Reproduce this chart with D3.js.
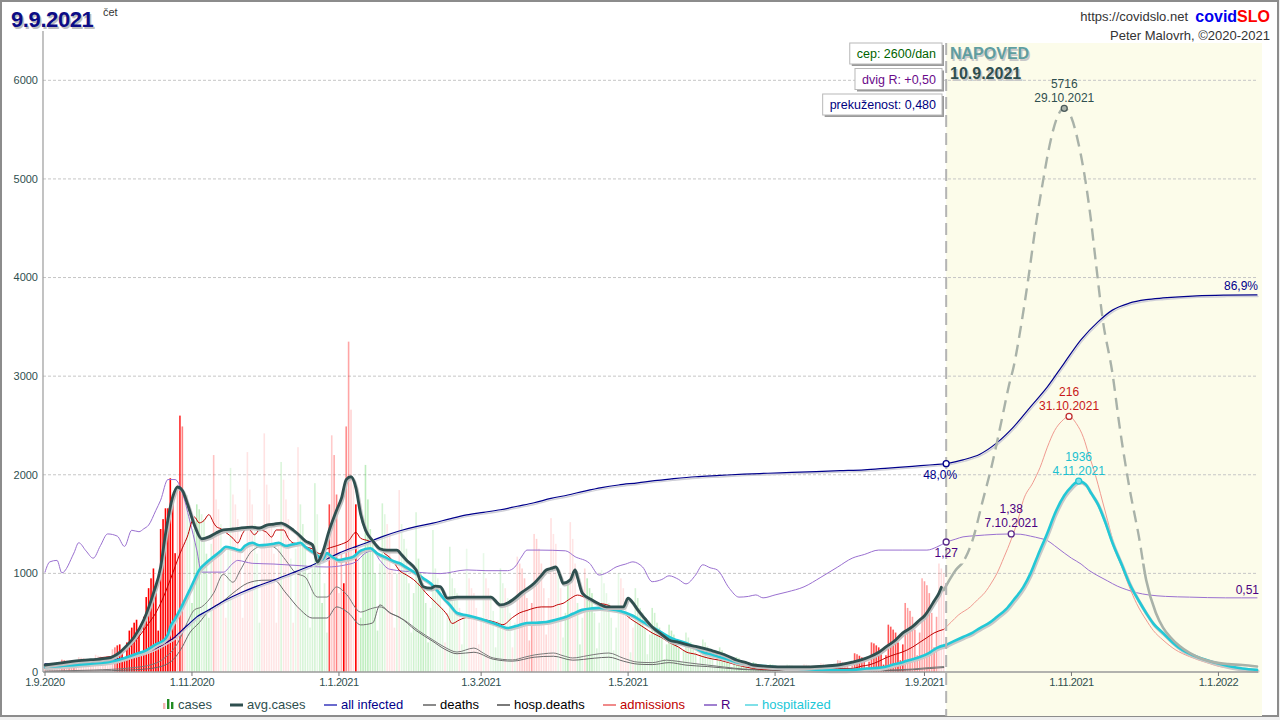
<!DOCTYPE html>
<html><head><meta charset="utf-8">
<script src="https://cdn.jsdelivr.net/npm/d3@7"></script>
<style>
html,body{margin:0;padding:0;background:#fff;}
svg{display:block;font-family:"Liberation Sans",Arial,sans-serif;}
</style></head><body>
<svg id="c" width="1280" height="720"></svg>
<script>
// ---------------- DATA ----------------
const START = "2020-09-01";          // day 0
const FORECAST_START = "2021-09-10"; // day 374
const END = "2022-01-17";
const titleDate = "9.9.2021";
const titleDay = "čet";
const xTickDates = ["2020-09-01","2020-11-01","2021-01-01","2021-03-01","2021-05-01","2021-07-01","2021-09-01","2021-11-01","2022-01-01"];
const yTicks = [0,1000,2000,3000,4000,5000,6000];
const scenario = ["cep: 2600/dan", "dvig R: +0,50", "prekuženost: 0,480"];

// daily confirmed cases, one value per day from 1.9.2020
const cases = [
85,80,85,75,60,30,75, 125,120,115,110,85,45,100, 150,145,140,130,100,55,120, 175,165,160,155,120,65,140,
230,250,270,280,210,115,300, 420,450,500,530,410,210,560, 760,850,950,1050,800,420,1450, 1550,1660,1660,1965,1800,1205,1900,
2600,2490,1795,1795,1600,700,1450, 1700,1650,1600,1550,1200,550,1300, 2200,1750,1650,1500,1200,550,1250, 2070,1800,1700,1550,1250,550,1300,
2230,1850,1700,1500,1200,500,1300, 2420,1900,1700,1500,1200,500,1300, 2130,1950,1750,1550,1150,500,1250, 2280,1700,1500,1350,1000,450,1050,
1915,1600,1200,700,900,400,1700, 2400,2200,1800,800,1200,900,2490, 3350,2660,1900,1700,1300,550,1200, 2100,1750,1450,1300,1000,420,1100,
1710,1600,1500,1400,1050,450,1000, 1845,1500,1350,1250,900,400,800, 1620,1150,1000,900,700,300,650, 1440,1050,950,850,650,300,600,
1270,950,850,800,650,280,550, 1250,950,850,800,650,280,560, 1205,950,850,780,620,250,520, 1050,900,850,750,600,250,500,
1170,1100,1050,950,750,320,700, 1400,1350,1250,1100,850,380,750, 1560,1400,1300,1050,850,350,600, 900,1520,1350,1100,700,280,550,
1050,950,850,800,600,240,500, 1035,900,800,700,550,220,450, 1000,950,850,750,550,200,450, 850,750,650,600,450,180,380,
650,600,500,450,350,130,280, 480,420,380,330,250,100,220, 400,350,300,280,200,80,180, 330,300,260,240,170,70,150,
250,220,190,170,120,50,110, 150,140,120,100,80,30,70, 100,90,80,70,50,20,45, 80,75,70,60,45,15,40,
75,70,65,55,40,15,35, 80,75,70,60,45,15,40, 90,85,75,70,50,20,45, 120,115,100,95,70,30,65,
190,180,165,150,110,45,105, 300,290,270,250,180,75,170, 480,460,430,400,300,120,280, 700,650,620,560,430,170,400,
950,920,880,800,600,250,560, 1100,1050,1000
];

// [day since 1.9.2020, value]
const avgCases = [[0,71],[6,90],[12,110],[19,125],[26,140],[31,200],[34,270],[37,355],[41,530],[45,800],[48,1065],[50,1400],[53,1775],[55,1876],[57,1840],[59,1714],[62,1490],[65,1350],[68,1370],[71,1410],[74,1440],[78,1450],[81,1460],[86,1470],[89,1460],[92,1490],[95,1500],[98,1510],[100,1490],[103,1440],[105,1400],[108,1330],[111,1290],[113,1115],[115,1200],[118,1440],[121,1640],[123,1760],[125,1950],[127,1980],[129,1870],[131,1600],[133,1440],[136,1330],[139,1250],[142,1235],[146,1235],[148,1190],[150,1135],[154,1035],[157,865],[160,850],[162,870],[164,865],[167,750],[171,760],[175,760],[180,760],[185,760],[189,680],[192,700],[194,730],[198,810],[203,900],[206,980],[208,1035],[210,1050],[212,1065],[214,960],[215,900],[218,935],[220,1035],[221,960],[223,800],[227,730],[230,690],[233,660],[236,660],[240,660],[242,750],[244,700],[246,630],[249,540],[252,456],[256,380],[259,325],[263,300],[266,280],[270,260],[273,243],[277,215],[280,193],[284,155],[287,122],[291,95],[294,71],[300,58],[308,51],[315,51],[322,58],[329,71],[335,100],[339,125],[342,152],[346,200],[349,254],[353,325],[356,396],[360,460],[363,527],[365,570],[367,640],[369,720],[371,800],[372,860]];
const avgCasesForecast = [[373,830],[376,960],[378,1035],[381,1115],[385,1340],[389,1720],[393,2100],[397,2550],[400,2900],[402,3095],[405,3500],[408,3975],[411,4500],[414,4950],[417,5350],[420,5620],[423,5716],[426,5620],[429,5350],[432,4950],[434,4600],[436,4178],[439,3570],[443,3030],[446,2485],[450,1876],[454,1370],[457,933],[461,600],[464,450],[467,355],[471,260],[475,193],[480,135],[485,100],[491,80],[497,71],[503,55]];

const hospitalized = [[0,50],[6,60],[12,70],[19,85],[26,100],[30,120],[34,150],[38,185],[42,220],[46,280],[50,340],[51,380],[52,456],[54,540],[56,630],[58,730],[60,830],[62,935],[64,1035],[67,1110],[70,1170],[73,1230],[75,1270],[78,1255],[81,1235],[83,1280],[86,1310],[89,1285],[92,1290],[95,1300],[97,1310],[100,1280],[102,1290],[104,1300],[106,1310],[108,1270],[110,1235],[113,1185],[115,1140],[117,1205],[119,1170],[122,1135],[125,1150],[128,1170],[131,1230],[135,1255],[138,1200],[142,1155],[145,1120],[147,1105],[150,1060],[154,1000],[157,950],[160,900],[163,820],[165,760],[168,680],[171,598],[175,575],[178,558],[182,530],[186,497],[189,470],[192,446],[196,470],[200,497],[204,500],[208,507],[212,530],[216,558],[219,590],[223,630],[227,645],[230,650],[234,640],[237,630],[241,600],[244,570],[248,510],[252,456],[256,400],[259,355],[262,325],[266,294],[270,245],[273,203],[277,175],[280,152],[284,125],[287,100],[291,85],[294,71],[301,55],[308,40],[315,30],[322,22],[329,20],[335,22],[341,35],[347,45],[352,75],[356,100],[360,130],[363,152],[367,195],[370,243],[374,275]];
const hospitalizedForecast = [[374,275],[377,310],[381,355],[385,400],[388,446],[392,500],[395,558],[399,640],[402,730],[406,860],[409,1000],[412,1180],[416,1410],[419,1600],[423,1790],[426,1880],[429,1936],[432,1900],[434,1820],[437,1700],[440,1520],[443,1310],[447,1080],[450,900],[454,720],[457,598],[460,490],[464,396],[468,300],[472,223],[477,165],[482,122],[487,85],[492,55],[497,35],[503,22]];

// hospital admissions per day
const admissions = [[0,3],[6,4],[12,6],[18,9],[23,12],[27,13],[30,14],[33,18],[35,21],[39,30],[43,41],[46,50],[48,58],[52,78],[56,100],[59,114],[62,131],[64,126],[66,128],[68,133],[70,126],[71,123],[73,121],[75,118],[78,113],[80,109],[82,117],[84,122],[87,116],[89,120],[92,118],[94,114],[96,120],[99,120],[101,113],[103,109],[106,108],[108,106],[111,104],[114,100],[117,104],[120,106],[123,108],[126,111],[129,118],[131,113],[134,111],[136,109],[138,106],[141,100],[143,97],[145,92],[147,86],[150,82],[153,78],[156,72],[158,67],[161,61],[164,55],[167,48],[169,41],[172,44],[175,46],[179,45],[183,44],[187,42],[190,40],[194,46],[197,50],[200,52],[203,54],[206,55],[210,55],[213,57],[215,58],[218,62],[221,65],[224,63],[226,61],[230,58],[233,57],[237,53],[240,50],[243,45],[246,41],[249,37],[252,33],[256,29],[259,25],[263,21],[266,17],[270,15],[273,13],[277,11],[280,10],[287,6],[294,3],[301,2],[308,2],[315,2],[322,2],[329,3],[335,3],[339,5],[342,6],[346,9],[349,12],[353,15],[356,17],[360,21],[363,25],[366,29],[369,33],[373,36]];
const admissionsForecast = [[373,36],[376,42],[379,48],[384,55],[387,61],[390,67],[393,76],[395,83],[398,97],[401,112],[404,130],[406,145],[410,160],[413,173],[416,190],[419,204],[422,212],[425,216],[428,210],[431,198],[433,185],[436,166],[438,151],[441,128],[444,105],[447,88],[450,72],[453,58],[457,44],[460,35],[464,27],[469,19],[475,13],[482,8],[489,4],[496,3],[503,2]];

// reproduction number
const rValues = [[0,0.86],[2,1.00],[5,1.02],[7,0.85],[12,1.12],[14,1.26],[17,1.15],[20,1.05],[23,1.22],[26,1.38],[30,1.35],[33,1.21],[36,1.43],[39,1.41],[41,1.45],[43,1.50],[46,1.70],[48,1.84],[51,2.12],[54,2.12],[57,1.94],[60,1.57],[63,1.16],[65,0.86],[70,0.86],[74,0.86],[78,0.98],[80,1.02],[83,1.00],[86,0.98],[95,0.97],[105,0.95],[109,0.94],[117,0.93],[125,0.96],[129,1.00],[133,1.12],[136,1.15],[139,1.02],[143,0.90],[154,0.86],[164,0.84],[175,0.89],[183,0.88],[192,0.88],[195,0.93],[198,1.08],[200,1.16],[205,1.16],[216,1.15],[220,1.07],[226,0.98],[230,0.82],[233,0.85],[237,0.93],[241,0.97],[244,1.00],[246,0.98],[248,0.93],[252,0.73],[256,0.76],[259,0.81],[263,0.76],[266,0.70],[270,0.82],[273,0.96],[276,0.92],[279,0.89],[284,0.64],[288,0.52],[292,0.53],[295,0.55],[298,0.51],[303,0.55],[308,0.59],[315,0.66],[322,0.79],[329,0.93],[335,1.05],[340,1.10],[346,1.16],[356,1.16],[366,1.16],[370,1.20],[374,1.27]];
const rForecast = [[374,1.27],[378,1.31],[381,1.34],[386,1.355],[390,1.365],[395,1.375],[401,1.38],[405,1.375],[409,1.35],[413,1.32],[416,1.29],[419,1.22],[423,1.12],[426,1.05],[430,0.97],[433,0.89],[437,0.81],[441,0.74],[445,0.67],[449,0.62],[453,0.58],[458,0.55],[465,0.53],[475,0.52],[490,0.51],[503,0.51]];

// share of population infected, %
const allInfected = [[0,1.85],[10,1.95],[19,2.1],[26,2.5],[32,3.2],[37,3.8],[42,4.6],[46,5.5],[50,6.7],[54,8.1],[57,9.7],[60,11.2],[63,12.7],[67,14.0],[70,15.0],[75,16.6],[81,18.2],[88,19.8],[95,21.2],[102,22.7],[109,24.2],[116,25.8],[122,27.4],[129,28.9],[134,29.9],[140,31.2],[147,32.5],[154,33.5],[161,34.3],[168,35.3],[175,36.2],[182,36.8],[189,37.4],[196,38.2],[203,39.0],[210,40.0],[217,40.8],[224,41.7],[231,42.5],[238,43.1],[246,43.6],[253,44.1],[260,44.5],[270,45.0],[280,45.3],[290,45.6],[300,45.8],[310,46.0],[320,46.2],[330,46.4],[340,46.6],[350,47.0],[360,47.4],[367,47.7],[374,48.0]];
const allInfectedForecast = [[374,48.0],[381,48.9],[388,50.2],[395,52.8],[402,56.5],[409,61.1],[416,65.7],[423,71.2],[430,76.6],[437,80.7],[443,83.4],[450,85.0],[457,85.8],[464,86.2],[478,86.7],[490,86.85],[503,86.9]];

// deaths per day (all / in hospital)
const deaths = [[0,0.4],[20,0.8],[35,1.6],[45,3.2],[50,6],[55,11.6],[59,20],[62,25.2],[65,26.4],[70,32],[74,39.6],[78,36.4],[81,41.2],[86,49.2],[92,51.6],[96,50],[100,45.2],[104,40.2],[108,38.5],[113,30.4],[117,30.4],[121,34.5],[125,31.6],[131,24.3],[135,25.6],[139,26.4],[144,23.6],[149,21.1],[155,16.8],[161,13],[166,10],[171,8.1],[178,9.7],[182,7.6],[186,5.7],[194,4.9],[199,6],[203,6.9],[207,7.4],[211,7.7],[215,6.6],[219,5.7],[225,6.6],[230,7.4],[234,7.7],[240,5.6],[246,4],[252,3.8],[258,4.8],[262,4.4],[268,3.6],[275,2.8],[282,2],[290,1.2],[300,0.9],[310,0.6],[320,0.5],[330,0.5],[340,0.6],[350,0.8],[360,1.2],[367,1.8],[373,2.2]];
const hospDeaths = [[0,0.2],[20,0.4],[35,0.8],[45,1.6],[52,4],[57,10.2],[60,15.8],[64,20],[68,24.8],[73,28],[78,32],[84,36],[90,37.2],[95,37.3],[100,32],[106,25.2],[111,21.9],[117,21.9],[121,26.4],[126,23.9],[131,19.1],[136,19.9],[139,27.2],[143,24],[147,22.3],[154,16.8],[161,12.4],[166,9.2],[171,7.4],[178,8],[186,5.2],[194,4.4],[203,6],[211,6.4],[219,4.8],[228,5.6],[234,6],[240,4.4],[246,3.2],[252,3],[259,3.8],[266,2.8],[275,2.2],[282,1.6],[290,1],[300,0.7],[310,0.5],[320,0.4],[330,0.4],[340,0.5],[350,0.6],[360,0.9],[367,1.4],[373,1.8]];

// plotting factors (secondary series drawn on the main axis)
const ADM_K = 12, DEATH_K = 25, PCT_K = 44;
const R_ZERO = 372, R_ONE = 1117;
const DASH_ABOVE = 1100;

// ---------------- CHART ----------------
const svg = d3.select("#c");
const parse = d3.utcParse("%Y-%m-%d");
const t0 = parse(START);
const dayDate = d => d3.utcDay.offset(t0, d);
const fmtDate = d3.utcFormat("%-d.%-m.%Y");
const comma = (f) => (v) => d3.format(f)(v).replace(".", ",");

const x = d3.scaleUtc().domain([t0, parse(END)]).range([45, 1257]);
const y = d3.scaleLinear().domain([0, 6500]).range([672, 31]);
const rToChart = d3.scaleLinear().domain([0, 1]).range([R_ZERO, R_ONE]);
const X0 = 43, X1 = 1258;

svg.append("rect").attr("width",1280).attr("height",720).attr("fill","#efefef");
svg.append("rect").attr("x",1).attr("y",1).attr("width",1277).attr("height",715)
  .attr("fill","#fff").attr("stroke","#8c8c8c").attr("stroke-width",2);

const xf = x(parse(FORECAST_START));
svg.append("rect").attr("x",xf).attr("y",43).attr("width",1262-xf).attr("height",673)
  .attr("fill","#fcfcea");

// grid
svg.append("g").selectAll("line").data(yTicks.filter(t=>t>0)).join("line")
  .attr("x1",X0).attr("x2",X1).attr("y1",d=>y(d)).attr("y2",d=>y(d))
  .attr("stroke","#c6c6c6").attr("stroke-dasharray","3,2");

// bars, coloured by change against the same weekday a week earlier
const barColor = (v,i) => {
  const prev = cases[i-7];
  const r = prev ? v/prev : 1.3;
  if (r >= 1) return `rgba(255,0,0,${Math.min(1, 0.1 + (r-1)*(r-1)*1.6).toFixed(3)})`;
  return `rgba(20,190,20,${Math.min(0.28, 0.08 + (1-r)*0.6).toFixed(3)})`;
};
const bw = 1.6;
svg.append("g").selectAll("rect").data(cases).join("rect")
  .attr("x",(v,i)=>x(dayDate(i))-bw/2).attr("width",bw)
  .attr("y",v=>y(v)).attr("height",v=>y(0)-y(v))
  .attr("fill",barColor);

const mkLine = (fv, curve=d3.curveMonotoneX) => d3.line()
  .x(d=>x(dayDate(d[0]))).y(d=>y(fv(d[1]))).curve(curve);
const id = v=>v;
const lAdm = mkLine(v=>v*ADM_K), lDeath = mkLine(v=>v*DEATH_K), lR = mkLine(v=>rToChart(v)), lPct = mkLine(v=>v*PCT_K), lId = mkLine(id);

const G = svg.append("g").attr("fill","none").attr("stroke-linejoin","round").attr("stroke-linecap","round");
function path(data, gen, stroke, width, extra){
  const p = G.append("path").datum(data).attr("d",gen).attr("stroke",stroke).attr("stroke-width",width);
  if (extra) extra(p);
  return p;
}
const shadow = p => p.attr("transform","translate(1,1.5)");

path(deaths, lDeath, "#7a7a7a", 1);
path(hospDeaths, lDeath, "#6a6a6a", 1);
path(rValues, lR, "#9a70d0", 1);
path(rForecast, lR, "#9a70d0", 1);
path(admissions, lAdm, "#c00000", 1);
path(admissionsForecast, lAdm, "#f09a90", 1);
path(allInfected, lPct, "#d0d0d8", 1.4, shadow);
path(allInfectedForecast, lPct, "#d0d0d8", 1.4, shadow);
path(allInfected, lPct, "#00008b", 1.2);
path(allInfectedForecast, lPct, "#00008b", 1.2);
path(hospitalized, lId, "#c8c8c8", 3.2, shadow);
path(hospitalizedForecast, lId, "#c8c8c8", 3.2, shadow);
path(hospitalized, lId, "#22c8d6", 2.6);
path(hospitalizedForecast, lId, "#22c8d6", 2.6);
path(avgCases, lId, "#c0c0c0", 3.4, shadow);
path(avgCases, lId, "#2f4f4f", 2.8);

// forecast of average cases: solid low, dashed high
const defs = svg.append("defs");
const yThr = y(DASH_ABOVE);
defs.append("clipPath").attr("id","above").append("rect").attr("x",0).attr("y",0).attr("width",1280).attr("height",yThr);
defs.append("clipPath").attr("id","below").append("rect").attr("x",0).attr("y",yThr).attr("width",1280).attr("height",720-yThr);
path(avgCasesForecast, lId, "#a9b2a9", 2.6, p=>p.attr("clip-path","url(#below)"));
path(avgCasesForecast, lId, "#a9b2a9", 2.4, p=>p.attr("clip-path","url(#above)").attr("stroke-dasharray","12,7").attr("stroke-linecap","butt"));

// forecast start line
svg.append("line").attr("x1",xf).attr("x2",xf).attr("y1",43).attr("y2",716)
  .attr("stroke","#b4b4b4").attr("stroke-width",2).attr("stroke-dasharray","12,6");

// axes
svg.append("line").attr("x1",X0).attr("x2",X0).attr("y1",y(6500)).attr("y2",y(0)).attr("stroke","#9a9a9a").attr("stroke-width",1.2);
svg.append("line").attr("x1",X0).attr("x2",X1).attr("y1",y(0)).attr("y2",y(0)).attr("stroke","#9a9a9a").attr("stroke-width",1.5);
svg.append("g").selectAll("text").data(yTicks).join("text")
  .attr("x",38).attr("y",d=>y(d)).attr("dy","0.35em").attr("text-anchor","end")
  .attr("font-size",11).attr("fill","#2f4f4f").text(d=>d);
const xt = svg.append("g").selectAll("g").data(xTickDates.map(parse)).join("g")
  .attr("transform",d=>`translate(${x(d)},${y(0)})`);
xt.append("line").attr("y1",0).attr("y2",4).attr("stroke","#777");
xt.append("text").attr("y",14).attr("text-anchor","middle").attr("font-size",11)
  .attr("fill","#2f4f4f").attr("letter-spacing","-0.4").text(d=>fmtDate(d));

// markers & labels
const peak = arr => arr.reduce((a,b)=> b[1]>a[1]?b:a);
function marker(pt, fv, stroke, fill, lines, color, dy1, dy2, dx=0){
  const cx = x(dayDate(pt[0])), cy = y(fv(pt[1]));
  svg.append("circle").attr("cx",cx).attr("cy",cy).attr("r",3)
    .attr("fill",fill).attr("stroke",stroke).attr("stroke-width",1.3);
  lines.forEach((t,k)=>{
    svg.append("text").attr("x",cx+dx).attr("y",cy+(k===0?dy1:dy2)).attr("text-anchor","middle")
      .attr("font-size",12).attr("fill",color).text(t);
  });
}
const pAvg = peak(avgCasesForecast);
marker(pAvg, id, "#4a5a5a", "#a9b2a9", [d3.format("d")(pAvg[1]), fmtDate(dayDate(pAvg[0]))], "#2f4f4f", -20, -6);
const pAdm = peak(admissionsForecast);
marker(pAdm, v=>v*ADM_K, "#c03030", "#fff", [d3.format("d")(pAdm[1]), fmtDate(dayDate(pAdm[0]))], "#c81818", -20, -6);
const pHosp = peak(hospitalizedForecast);
marker(pHosp, id, "#22c8d6", "#7fe0e8", [d3.format("d")(pHosp[1]), fmtDate(dayDate(pHosp[0]))], "#20c0d0", -20, -6);
const pR = peak(rForecast);
marker(pR, v=>rToChart(v), "#5a2a8a", "#fff", [comma(".2f")(pR[1]), fmtDate(dayDate(pR[0]))], "#4b0082", -21, -7);
const rNow = rValues[rValues.length-1];
marker(rNow, v=>rToChart(v), "#5a2a8a", "#fff", [comma(".2f")(rNow[1])], "#4b0082", 15, 15);
const pctNow = allInfected[allInfected.length-1];
marker(pctNow, v=>v*PCT_K, "#00008b", "#fff", [comma(".1f")(pctNow[1])+"%"], "#00008b", 15, 15, -6);

const pctEnd = allInfectedForecast[allInfectedForecast.length-1];
svg.append("text").attr("x",1258).attr("y",y(pctEnd[1]*PCT_K)-5).attr("text-anchor","end")
  .attr("font-size",12).attr("fill","#00008b").text(comma(".1f")(pctEnd[1])+"%");
const rEnd = rForecast[rForecast.length-1];
svg.append("text").attr("x",1259).attr("y",y(rToChart(rEnd[1]))-4).attr("text-anchor","end")
  .attr("font-size",12).attr("fill","#4b0082").text(comma(".2f")(rEnd[1]));

// scenario boxes
const boxColors = ["#006400","#6a0a8a","#00007f"];
scenario.forEach((t,k)=>{
  const top = 43 + k*25.5, right = 942;
  const g = svg.append("g");
  const txt = g.append("text").attr("x",right-6).attr("y",top+15).attr("text-anchor","end")
    .attr("font-size",12.5).attr("fill",boxColors[k]).text(t);
  const w = txt.node().getComputedTextLength() + 13;
  g.insert("rect","text").attr("x",right-w+2).attr("y",top+2).attr("width",w).attr("height",21).attr("fill","#9a9a9a");
  g.insert("rect","text").attr("x",right-w).attr("y",top).attr("width",w).attr("height",21)
    .attr("fill","#fff").attr("stroke","#b8b8b8");
});

function shadowText(tx, ty, t, size, color, shadowColor, spacing){
  [[1.5, shadowColor],[0, color]].forEach(([o,c])=>{
    const e = svg.append("text").attr("x",tx+o).attr("y",ty+o).attr("font-size",size)
      .attr("font-weight","bold").attr("fill",c).text(t);
    if (spacing) e.attr("letter-spacing", spacing);
  });
}
shadowText(950, 59, "NAPOVED", 16, "#5f9ea0", "#c8c8c8");
shadowText(950, 79, fmtDate(parse(FORECAST_START)), 16, "#2f4f4f", "#c8c8c8");
shadowText(11, 27, titleDate, 22, "#0c0c86", "#bdbdbd", -0.4);
svg.append("text").attr("x",103).attr("y",16).attr("font-size",11).attr("fill","#333").text(titleDay);

// header right
svg.append("text").attr("x",1188).attr("y",21).attr("text-anchor","end").attr("font-size",13).attr("fill","#333").text("https://covidslo.net");
const brand = svg.append("text").attr("x",1270).attr("y",22).attr("text-anchor","end").attr("font-size",16).attr("font-weight","bold");
brand.append("tspan").attr("fill","#0000ee").text("covid");
brand.append("tspan").attr("fill","#ff0000").text("SLO");
svg.append("text").attr("x",1270).attr("y",40).attr("text-anchor","end").attr("font-size",13).attr("fill","#333").text("Peter Malovrh, ©2020-2021");

// legend
const legendItems = [
  {label:"cases", x:178, color:"#2f4f4f", icon:"bars"},
  {label:"avg.cases", x:247, color:"#2f4f4f", line:"#2f4f4f", lw:3},
  {label:"all infected", x:341, color:"#00008b", line:"#6a6acd", lw:2},
  {label:"deaths", x:440, color:"#000", line:"#8a8a8a", lw:2},
  {label:"hosp.deaths", x:514, color:"#000", line:"#7a7a7a", lw:2},
  {label:"admissions", x:620, color:"#c00000", line:"#f08a8a", lw:2},
  {label:"R", x:721, color:"#4b0082", line:"#a080d0", lw:2},
  {label:"hospitalized", x:762, color:"#20c8d8", line:"#80e0e8", lw:2}
];
const LY = 709;
legendItems.forEach(it=>{
  if (it.icon === "bars"){
    svg.append("rect").attr("x",it.x-15).attr("y",LY-6).attr("width",2.4).attr("height",6).attr("fill","#f4b4b4");
    svg.append("rect").attr("x",it.x-11).attr("y",LY-10).attr("width",2.4).attr("height",10).attr("fill","#228b22");
    svg.append("rect").attr("x",it.x-7).attr("y",LY-7).attr("width",2.4).attr("height",7).attr("fill","#228b22");
  } else {
    svg.append("line").attr("x1",it.x-17).attr("x2",it.x-4).attr("y1",LY-4).attr("y2",LY-4)
      .attr("stroke",it.line).attr("stroke-width",it.lw);
  }
  svg.append("text").attr("x",it.x).attr("y",LY).attr("font-size",13).attr("fill",it.color).text(it.label);
});
</script></body></html>
